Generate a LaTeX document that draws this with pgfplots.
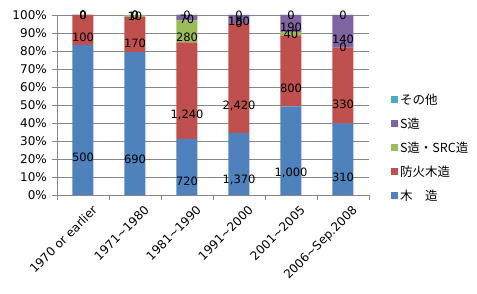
\documentclass[border=0pt]{standalone}
\usepackage{pgfplots}
\pgfplotsset{compat=1.18}
\usepackage{pgfplotstable}
\usepackage{fontspec}
\setmainfont{DejaVu Sans}
\newfontfamily\cjk{Noto Sans CJK JP}
\definecolor{cw}{HTML}{4F81BD}
\definecolor{cf}{HTML}{C0504D}
\definecolor{cs}{HTML}{9BBB59}
\definecolor{cp}{HTML}{8064A2}
\definecolor{co}{HTML}{4BACC6}
\definecolor{gridc}{RGB}{134,134,134}
% raw counts (w,f,r,s,o) and their shares in percent (wp,fp,rp,sp,op)
\pgfplotstableread{
x w wp f fp r rp s sp o op
0 500 83.333 100 16.667 0 0.0001 0 0.0001 0 0.0001
1 690 79.310 170 19.540 10 1.149 0 0.0001 0 0.0001
2 720 31.169 1240 53.680 280 12.121 70 3.030 0 0.0001
3 1370 34.509 2420 60.957 0 0.0001 180 4.534 0 0.0001
4 1000 49.261 800 39.409 40 1.970 190 9.360 0 0.0001
5 310 39.744 330 42.308 0 0.0001 140 17.948 0 0.0001
}\data
\begin{document}
\begin{tikzpicture}
\path[use as bounding box] (-57pt,-99pt) rectangle (420pt,195pt);
\begin{axis}[
  at={(0,0)}, anchor=south west,
  scale only axis, width=312pt, height=180pt,
  ybar stacked, bar width=21pt,
  xmin=-0.5, xmax=5.5, ymin=0, ymax=100,
  clip=false,
  axis lines*=left,
  axis line style={gridc, line width=0.8pt},
  tick style={gridc, line width=0.8pt},
  tick align=outside,
  major tick length=5pt, minor tick length=5pt,
  xtick={0,...,5},
  major x tick style={draw=none},
  minor xtick={-0.5,0.5,...,5.5},
  xticklabels={1970 or earlier, 1971\textasciitilde1980, 1981\textasciitilde1990, 1991\textasciitilde2000, 2001\textasciitilde2005, 2006\textasciitilde Sep.2008},
  xticklabel style={rotate=45, anchor=north east, inner sep=0pt, xshift=3pt, yshift=-9pt},
  ytick={0,10,...,100},
  yticklabel={\pgfmathprintnumber{\tick}\%},
  yticklabel style={inner sep=0pt, xshift=-5pt},
  ymajorgrids, grid style={gridc, line width=0.8pt},
  /pgf/number format/assume math mode=true,
  ticklabel style={font=\fontsize{12}{14}\selectfont},
  point meta=explicit,
  nodes near coords,
  visualization depends on={rawy \as \rawy},
  every node near coord/.append style={font=\fontsize{11.5}{14}\selectfont, text=black, anchor=center, inner sep=0pt, yshift={-0.45pt*\rawy}},
  legend style={at={(1.07,0.575)}, anchor=north west, draw=none, fill=none, font=\cjk\fontsize{12.5}{15}\selectfont, row sep=8pt, inner sep=0pt},
  legend cell align=left,
  reverse legend,
  legend image code/.code={\fill[#1] (0pt,-3.5pt) rectangle (7pt,3.5pt);},
]
\addplot[fill=cw, draw=none] table[x=x, y=wp, meta=w] {\data};
\addplot[fill=cf, draw=none] table[x=x, y=fp, meta=f] {\data};
\addplot[fill=cs, draw=none] table[x=x, y=rp, meta=r] {\data};
\addplot[fill=cp, draw=none] table[x=x, y=sp, meta=s] {\data};
\addplot[fill=co, draw=none] table[x=x, y=op, meta=o] {\data};
\legend{木　造, 防火木造, S造・SRC造, S造, その他}
\end{axis}
\end{tikzpicture}
\end{document}
